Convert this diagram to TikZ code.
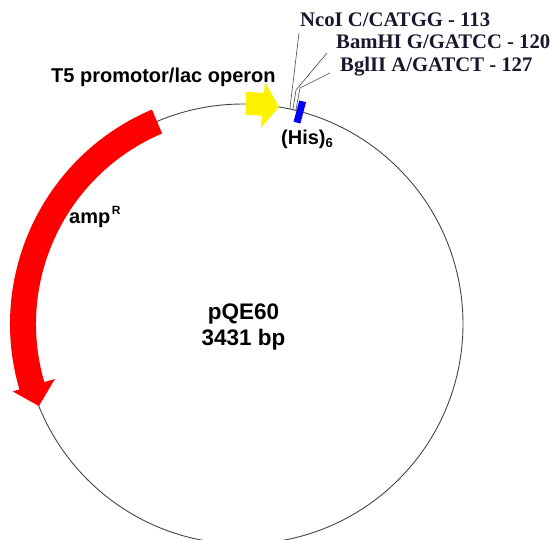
\documentclass[tikz,border=0pt]{standalone}
\usepackage{fontspec}
\setmainfont{Liberation Serif}
\setsansfont{Liberation Sans}
\usetikzlibrary{calc}
\definecolor{sitetext}{RGB}{25,22,45}
\definecolor{mapline}{RGB}{70,70,70}
\begin{document}
\begin{tikzpicture}[x=1pt,y=1pt,
  featurelabel/.style={font=\sffamily\bfseries\fontsize{20}{24}\selectfont, inner sep=0pt, anchor=base west},
  sizelabel/.style={font=\sffamily\bfseries\fontsize{22.5}{26}\selectfont, inner sep=0pt, anchor=base},
  sitelabel/.style={font=\rmfamily\bfseries\fontsize{20.7}{24}\selectfont, text=sitetext, inner sep=0pt, anchor=base west},
  leader/.style={draw=mapline, line width=0.6pt},
  backbone/.style={draw=mapline, line width=0.9pt}]
\useasboundingbox (0,0) rectangle (554,-539);
\clip (0,0) rectangle (554,-539);

% plasmid backbone
\coordinate (C) at (243,-324);
\node[circle, backbone, minimum size=440pt, inner sep=0pt] (plasmid) at (C) {};

% ampicillin resistance gene, running counter-clockwise
\fill[red] ($(C)+(113:233)$) arc[start angle=113, end angle=196.3, radius=233]
  -- ($(C)+(196.3:240)$) -- ($(C)+(201.9:220)$) -- ($(C)+(196.3:196)$)
  -- ($(C)+(196.3:207)$) arc[start angle=196.3, end angle=113, radius=207] -- cycle;

% T5 promoter / lac operator
\fill[yellow] ($(C)+(89.2:232)$) arc[start angle=89.2, end angle=84.8, radius=232]
  -- ($(C)+(84.8:243)$) -- ($(C)+(80.6:220)$) -- ($(C)+(84.8:197)$)
  -- ($(C)+(84.8:209)$) arc[start angle=84.8, end angle=89.2, radius=209] -- cycle;

% 6xHis tag
\node[rectangle, fill=blue, minimum width=22pt, minimum height=7pt, inner sep=0pt, rotate=75]
  (hisbox) at ($(C)+(75:219.5)$) {};

% feature labels
\node[featurelabel] (promoter) at (51,-82) {T5 promotor/lac operon};
\node[featurelabel] (amp) at (69,-223) {amp\hspace{1.5pt}\raisebox{8.4pt}{\fontsize{12}{14}\selectfont R}};
\node[featurelabel] (histag) at (281,-144) {(His)\raisebox{-3pt}{\fontsize{13}{15}\selectfont 6}};
\node[sizelabel] (name) at (243.5,-319) {pQE60};
\node[sizelabel] (length) at (243.5,-345) {3431 bp};

% restriction sites
\node[sitelabel] (ncoi) at (300,-26) {NcoI C/CATGG - 113};
\node[sitelabel] (bamhi) at (336,-48) {BamHI G/GATCC - 120};
\node[sitelabel] (bglii) at (340,-71) {BglII A/GATCT - 127};

\coordinate (ncoi-site) at ($(C)+(77.7:220)$);
\coordinate (bamhi-site) at ($(C)+(76.9:220)$);
\coordinate (bglii-site) at ($(C)+(76.1:220)$);
\coordinate (ncoi-end) at (299,-33);
\coordinate (bamhi-bend) at (296,-90);
\coordinate (bamhi-end) at (327,-53);
\coordinate (bglii-bend) at (300,-88);
\coordinate (bglii-end) at (330,-73);

\draw[leader] (ncoi-site) -- (ncoi-end);
\draw[leader] (bamhi-site) -- (bamhi-bend) -- (bamhi-end);
\draw[leader] (bglii-site) -- (bglii-bend) -- (bglii-end);
\end{tikzpicture}
\end{document}
